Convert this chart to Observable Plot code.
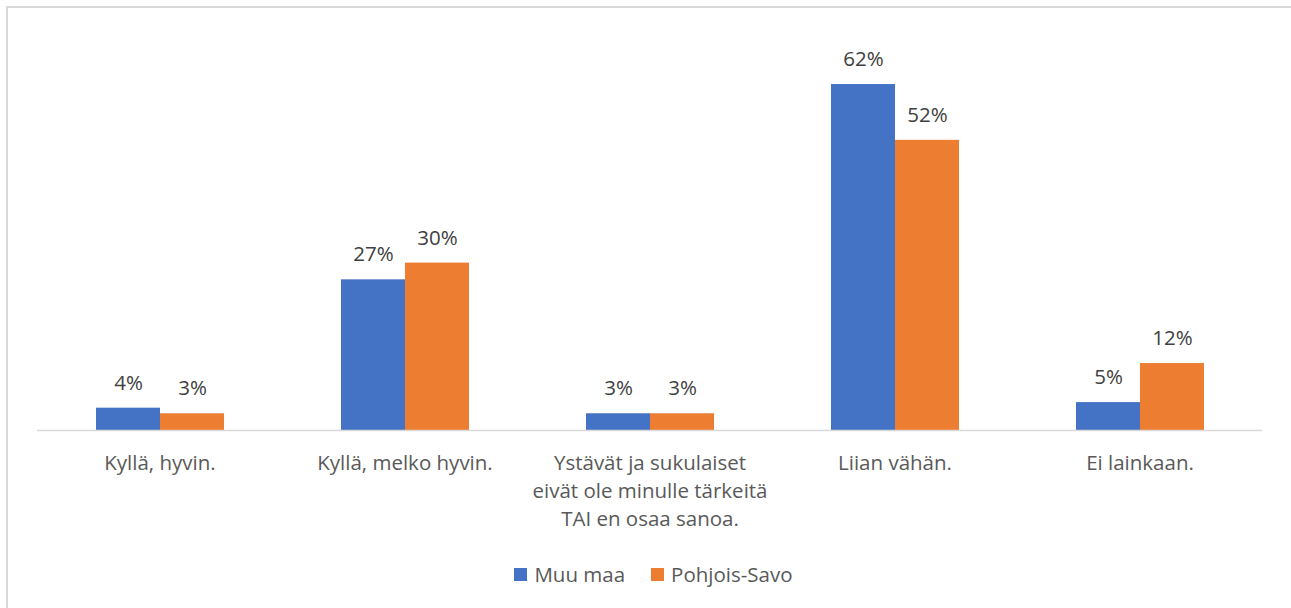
<!DOCTYPE html>
<html>
<head>
<meta charset="utf-8">
<script src="https://cdn.jsdelivr.net/npm/d3@7"></script>
<script src="https://cdn.jsdelivr.net/npm/@observablehq/plot@0.6"></script>
<style>
  html, body { margin: 0; padding: 0; background: #fff; }
  body { width: 1291px; height: 608px; position: relative; overflow: hidden; font-family: "Open Sans", sans-serif; }
  #frame { position: absolute; left: 6px; top: 6px; width: 1400px; height: 700px; border-left: 2px solid #d9d9d9; border-top: 2px solid #d9d9d9; box-sizing: border-box; }
  #chart { position: absolute; left: 0; top: 0; }
  #legend { position: absolute; left: 8px; top: 560px; width: 1291px; display: flex; justify-content: center; align-items: center; gap: 26px; font-size: 20.5px; color: #595959; }
  .item { display: flex; align-items: center; gap: 7px; }
  .sw { width: 13px; height: 13px; display: inline-block; }
</style>
</head>
<body>
<div id="frame"></div>
<div id="chart"></div>
<div id="legend"></div>
<script>
const categories = [
  "Kyllä, hyvin.",
  "Kyllä, melko hyvin.",
  "Ystävät ja sukulaiset\neivät ole minulle tärkeitä\nTAI en osaa sanoa.",
  "Liian vähän.",
  "Ei lainkaan."
];
const series = ["Muu maa", "Pohjois-Savo"];
const muuMaa = [4, 27, 3, 62, 5];
const pohjoisSavo = [3, 30, 3, 52, 12];
const colors = ["#4472C4", "#ED7D31"];

const data = categories.flatMap((c, i) => [
  {cat: c, series: series[0], value: muuMaa[i]},
  {cat: c, series: series[1], value: pohjoisSavo[i]}
]);

const H = 545;
const baseY = 430;
const pxPer = 5.58;
const yMax = 70;

const chart = Plot.plot({
  width: 1291,
  height: H,
  marginLeft: 35,
  marginRight: 28,
  marginTop: baseY - yMax * pxPer,
  marginBottom: H - baseY,
  style: {fontFamily: "Open Sans, sans-serif", background: "transparent"},
  fx: {domain: categories, padding: 0, label: null, axis: null},
  x: {domain: series, paddingInner: 0, paddingOuter: 0.914, axis: null},
  y: {domain: [0, yMax], axis: null},
  color: {domain: series, range: colors},
  marks: [
    Plot.barY(data, {fx: "cat", x: "series", y: "value", fill: "series"}),
    Plot.ruleY([0], {stroke: "#d9d9d9", strokeWidth: 1.5}),
    Plot.text(data, {fx: "cat", x: "series", y: "value", text: d => d.value + "%", dy: -25, fontSize: 20.5, fill: "#404040"}),
    Plot.axisFx({anchor: "bottom", tickSize: 0, tickPadding: 20, fontSize: 20.5, lineHeight: 1.36, label: null, fill: "#595959"})
  ]
});
document.getElementById("chart").appendChild(chart);

const legend = document.getElementById("legend");
series.forEach((s, i) => {
  const item = document.createElement("div");
  item.className = "item";
  const sw = document.createElement("span");
  sw.className = "sw";
  sw.style.background = colors[i];
  const t = document.createElement("span");
  t.textContent = s;
  item.appendChild(sw);
  item.appendChild(t);
  legend.appendChild(item);
});
</script>
</body>
</html>
